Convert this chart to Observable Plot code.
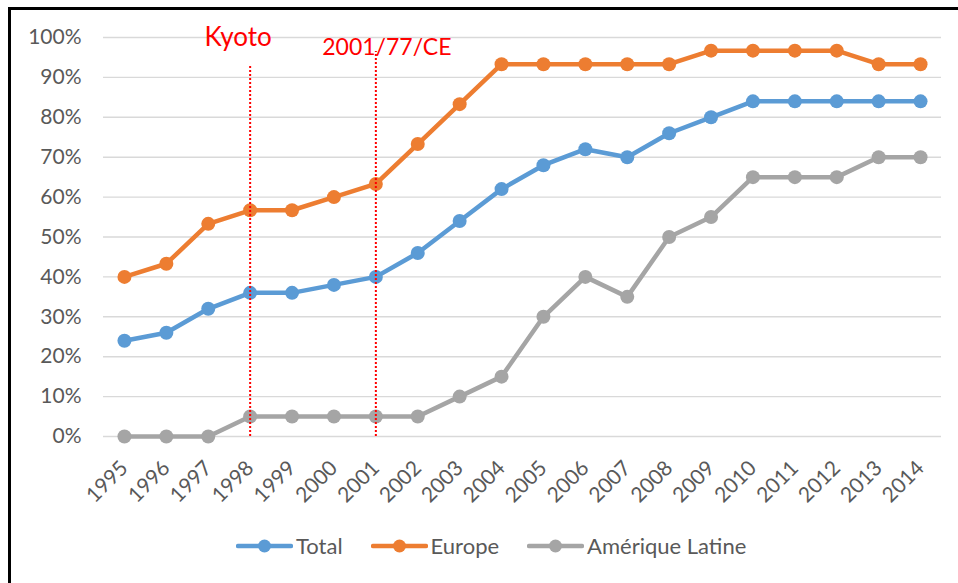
<!DOCTYPE html>
<html>
<head>
<meta charset="utf-8">
<script src="https://cdn.jsdelivr.net/npm/d3@7"></script>
<script src="https://cdn.jsdelivr.net/npm/@observablehq/plot@0.6"></script>
<style>
  html, body { margin: 0; padding: 0; background: #fff; }
  #wrap { position: relative; width: 958px; height: 583px; overflow: hidden; font-family: Lato, "Noto Sans", sans-serif; }
  #frame { position: absolute; left: 8px; top: 7px; width: 1000px; height: 700px; border-left: 3px solid #000; border-top: 3px solid #000; box-sizing: border-box; }
  #chart { position: absolute; left: 0; top: 0; }
  #legend { position: absolute; left: 236px; top: 532px; display: flex; gap: 28px; font-size: 22px; color: #595959; }
  .item { display: flex; align-items: center; gap: 3px; }
</style>
</head>
<body>
<div id="wrap">
  <div id="frame"></div>
  <div id="chart"></div>
  <div id="legend"></div>
</div>
<script>
const years = [1995,1996,1997,1998,1999,2000,2001,2002,2003,2004,2005,2006,2007,2008,2009,2010,2011,2012,2013,2014];
const total  = [0.24,0.26,0.32,0.36,0.36,0.38,0.40,0.46,0.54,0.62,0.68,0.72,0.70,0.76,0.80,0.84,0.84,0.84,0.84,0.84];
const europe = [0.40,0.433,0.533,0.567,0.567,0.60,0.633,0.733,0.833,0.933,0.933,0.933,0.933,0.933,0.967,0.967,0.967,0.967,0.933,0.933];
const latam  = [0,0,0,0.05,0.05,0.05,0.05,0.05,0.10,0.15,0.30,0.40,0.35,0.50,0.55,0.65,0.65,0.65,0.70,0.70];
const seriesNames = ["Total","Europe","Amérique Latine"];
const seriesColors = ["#5B9BD5","#ED7D31","#A5A5A5"];
const yTicks = [0,0.1,0.2,0.3,0.4,0.5,0.6,0.7,0.8,0.9,1.0];
const eventYears = [1998, 2001];
const eventLabels = ["Kyoto", "2001/77/CE"];
const eventTops = [0.93, 0.965];

const seriesValues = [total, europe, latam];
const data = [];
seriesNames.forEach((s, i) => years.forEach((y, j) => data.push({series: s, year: y, value: seriesValues[i][j]})));
const events = eventYears.map((y, i) => ({year: y, label: eventLabels[i], top: eventTops[i]}));

const W = 958, H = 510;
const chart = Plot.plot({
  width: W, height: H,
  marginLeft: 103, marginRight: 17, marginTop: 37, marginBottom: H - 436,
  style: {fontFamily: "Lato, 'Noto Sans', sans-serif", background: "transparent"},
  x: {type: "linear", domain: [years[0] - 0.5, years[years.length - 1] + 0.5]},
  y: {domain: [0, 1]},
  color: {domain: seriesNames, range: seriesColors},
  marks: [
    Plot.gridY(yTicks, {stroke: "#D9D9D9", strokeOpacity: 1, strokeWidth: 1.4}),
    Plot.axisY(yTicks, {tickSize: 0, tickPadding: 22, tickFormat: d => Math.round(d * 100) + "%", fontSize: 21, fill: "#595959", label: null}),
    Plot.axisX(years, {tickSize: 0, tickPadding: 28, tickRotate: -45, tickFormat: d => String(d), fontSize: 21, fill: "#595959", label: null}),
    Plot.line(data, {x: "year", y: "value", stroke: "series", z: "series", strokeWidth: 4.5, strokeLinejoin: "round"}),
    Plot.dot(data, {x: "year", y: "value", fill: "series", r: 7, stroke: null}),
    Plot.ruleX(events, {x: "year", y1: 0, y2: "top", stroke: "#FF0000", strokeWidth: 2, strokeDasharray: "2,2"}),
    Plot.text(events.slice(0,1), {x: "year", y: 1, text: "label", dx: -12, dy: 0, fontSize: 26, fill: "#FF0000"}),
    Plot.text(events.slice(1), {x: "year", y: 1, text: "label", dx: 11, dy: 10, fontSize: 23, fill: "#FF0000"})
  ]
});
document.getElementById("chart").appendChild(chart);

const legend = document.getElementById("legend");
seriesNames.forEach((s, i) => {
  const item = document.createElement("div");
  item.className = "item";
  item.innerHTML = `<svg width="57" height="16"><line x1="2" y1="8" x2="55" y2="8" stroke="${seriesColors[i]}" stroke-width="4.5" stroke-linecap="round"/><circle cx="28.5" cy="8" r="6.5" fill="${seriesColors[i]}"/></svg><span>${s}</span>`;
  legend.appendChild(item);
});
</script>
</body>
</html>
